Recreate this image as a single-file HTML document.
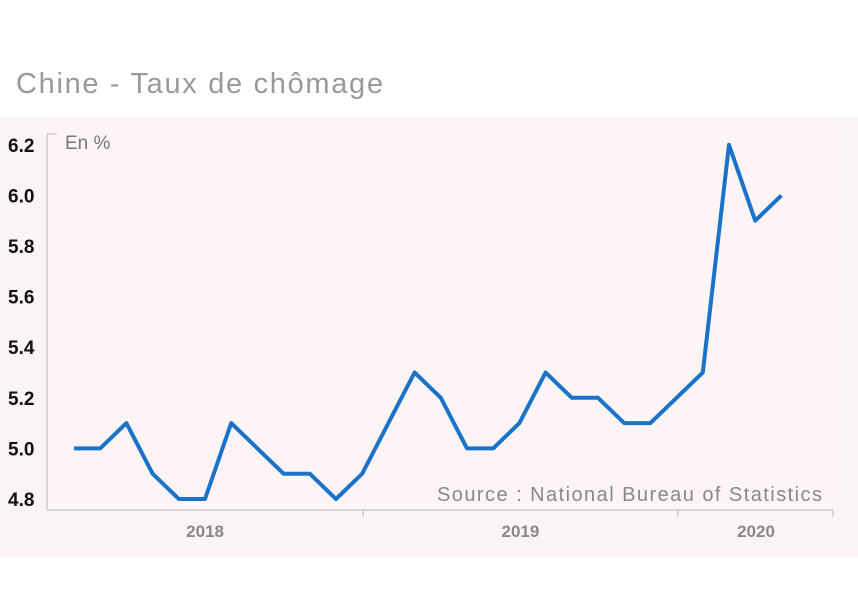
<!DOCTYPE html>
<html><head><meta charset="utf-8"><style>
body{margin:0;background:#fff;width:858px;height:600px;overflow:hidden;font-family:"Liberation Sans",sans-serif}
</style></head><body>
<svg width="858" height="600">
<text x="16" y="93" font-size="29" fill="#999" textLength="367">Chine - Taux de chômage</text>
<rect x="0" y="117" width="858" height="440" fill="#faf5f4"/>
<rect x="47" y="122" width="793" height="388" fill="#fdf5f5"/>
<g id="axes"></g>
<text x="65" y="149" font-size="19" fill="#777">En %</text>
<text x="437" y="501" font-size="20" fill="#888" textLength="385">Source : National Bureau of Statistics</text>
<path id="line" fill="none" stroke="#1a73c8" stroke-width="4" stroke-linejoin="round"/>
</svg>
<script>
const values=[5.0,5.0,5.1,4.9,4.8,4.8,5.1,5.0,4.9,4.9,4.8,4.9,5.1,5.3,5.2,5.0,5.0,5.1,5.3,5.2,5.2,5.1,5.1,5.2,5.3,6.2,5.9,6.0];
const yTicks=[4.8,5.0,5.2,5.4,5.6,5.8,6.0,6.2];
const years=["2018","2019","2020"];
const yearTickIdx=[11,23,29];
const xs=i=>74+i*26.2;
const ys=v=>499-(v-4.8)/0.2*50.6;
const ns="http://www.w3.org/2000/svg";
const g=document.getElementById('axes');
function mk(t,a){const e=document.createElementNS(ns,t);for(const k in a)e.setAttribute(k,a[k]);g.appendChild(e);return e;}
let e=mk('line',{x1:47,y1:134,x2:47,y2:510,stroke:'#ccc','stroke-width':1.5});


mk('line',{x1:47,y1:134,x2:57,y2:134,stroke:'#ccc','stroke-width':1.5});
e=mk('line',{x1:47,y1:510,x2:833,y2:510,stroke:'#ccc','stroke-width':1.5});


yTicks.forEach(v=>{const t=mk('text',{x:8,y:ys(v)+7,'font-size':19,fill:'#111','font-weight':'bold'});t.textContent=v.toFixed(1);

});
let prev=47;
yearTickIdx.forEach((idx,k)=>{const x=Math.min(xs(idx)+1,833);mk('line',{x1:x,y1:510,x2:x,y2:517,stroke:'#ccc','stroke-width':1.5});
const t=mk('text',{x:(k==2?756:(prev+x)/2),y:537,'font-size':17,fill:'#888','font-weight':'bold','text-anchor':'middle'});t.textContent=years[k];

prev=x;});
document.getElementById('line').setAttribute('d',values.map((v,i)=>(i?'L':'M')+xs(i)+','+ys(v)).join(''));
</script>
</body></html>
